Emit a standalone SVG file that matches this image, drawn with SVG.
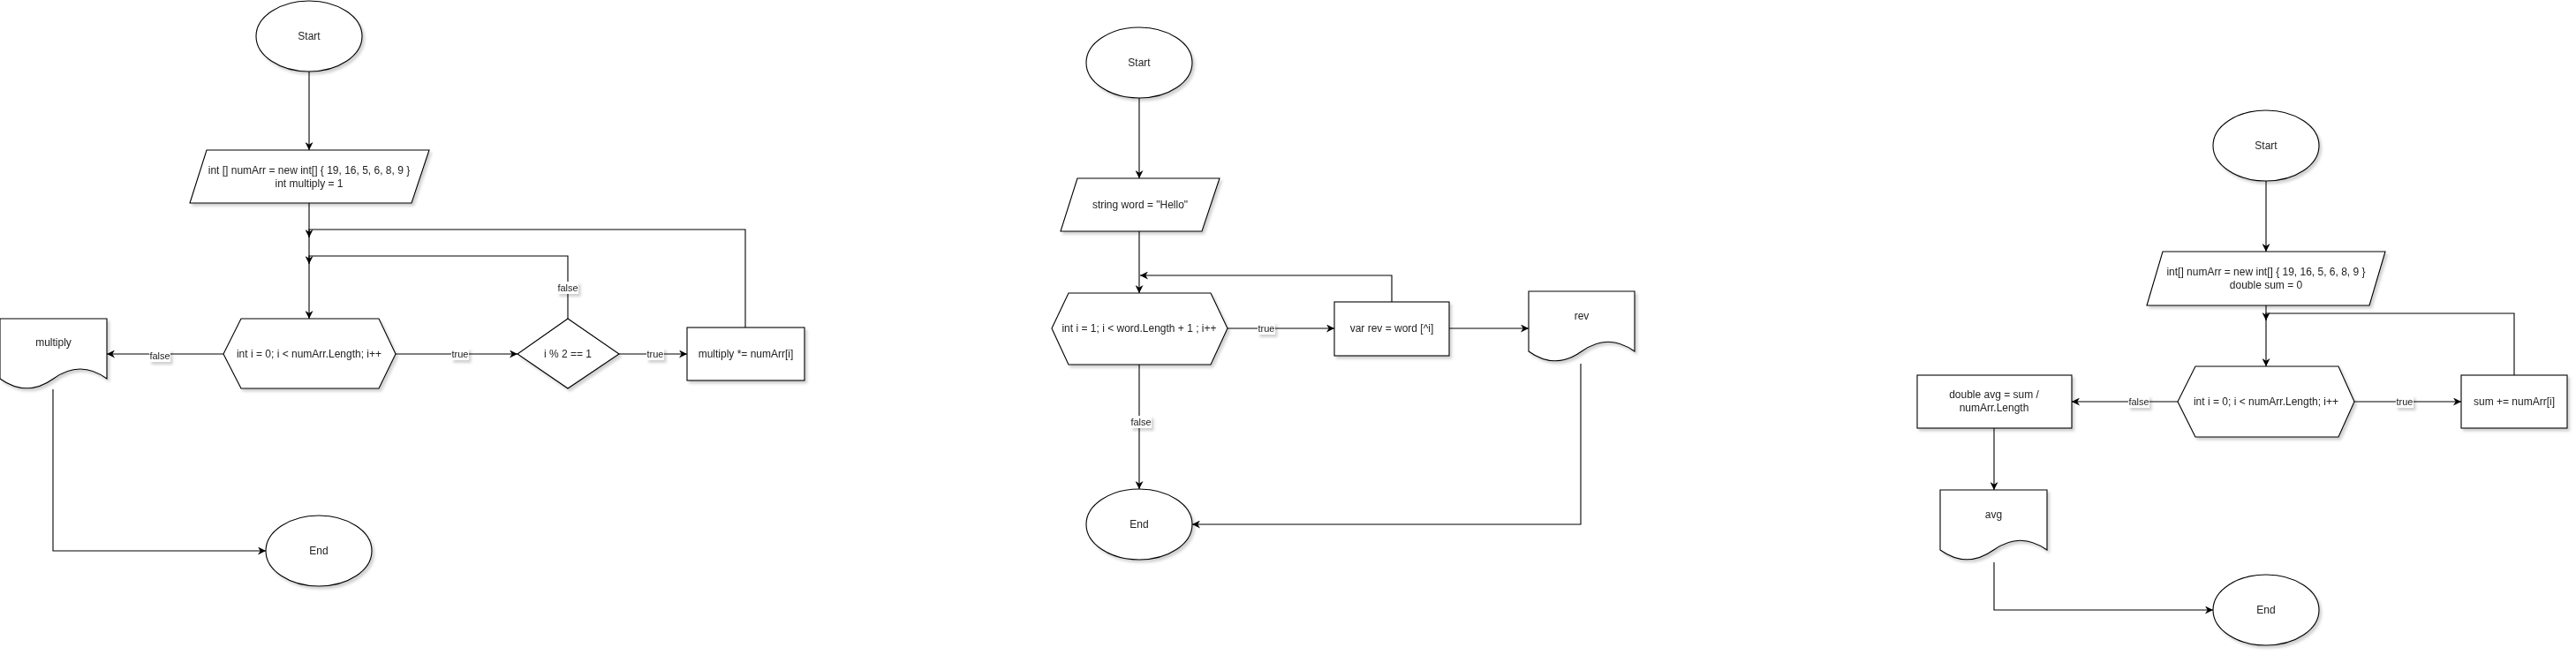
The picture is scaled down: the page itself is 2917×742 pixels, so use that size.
<svg xmlns="http://www.w3.org/2000/svg" width="2917" height="742" viewBox="0 0 2917 742">
<style>
.shape{fill:#fff;stroke:#000;stroke-width:1.1}
.edge{fill:none;stroke:#000;stroke-width:1.1}
.t{font-family:"Liberation Sans",Arial,sans-serif;font-size:12px;fill:#222;text-anchor:middle;dominant-baseline:central}
.lb{font-family:"Liberation Sans",Arial,sans-serif;font-size:11px;fill:#222;text-anchor:middle;dominant-baseline:central}
.lbg{fill:#fff;stroke:none}
.sh{filter:url(#shadow)}
</style>
<defs>
<filter id="shadow" x="-20%" y="-20%" width="150%" height="150%">
<feDropShadow dx="2.5" dy="3" stdDeviation="1.5" flood-color="#000" flood-opacity="0.18"/>
</filter>
<marker id="arr" viewBox="0 0 10 10" refX="10" refY="5" markerWidth="9" markerHeight="9" markerUnits="userSpaceOnUse" orient="auto">
<path d="M0,0 L10,5 L0,10 L3,5 Z" fill="#000"/>
</marker>
</defs>

<rect width="2917" height="742" fill="#fff"/>

<!-- Diagram 1 -->
<g id="d1-start" class="sh"><ellipse class="shape" cx="350" cy="41" rx="60" ry="40"/><text class="t" x="350" y="41">Start</text></g>
<g id="d1-init" class="sh"><polygon class="shape" points="234,170 486,170 466,230 215,230"/><text class="t" x="350" y="193">int [] numArr = new int[]  { 19, 16, 5, 6, 8, 9 }</text><text class="t" x="350" y="208">int multiply = 1</text></g>
<g id="d1-loop" class="sh"><polygon class="shape" points="253,401 273,361 429,361 448,401 429,440 273,440"/><text class="t" x="350" y="401">int i = 0; i &lt; numArr.Length; i++</text></g>
<g id="d1-cond" class="sh"><polygon class="shape" points="643,361 701,401 643,440 586,401"/><text class="t" x="643" y="401">i % 2 == 1</text></g>
<g id="d1-mul" class="sh"><rect class="shape" x="778" y="371" width="133" height="60"/><text class="t" x="844.5" y="401">multiply *= numArr[i]</text></g>
<g id="d1-out" class="sh"><path class="shape" d="M0,361 H121 V429 Q90.75,407 60.5,429 Q30.25,450.6 0,429 Z"/><text class="t" x="60.5" y="388">multiply</text></g>
<g id="d1-end" class="sh"><ellipse class="shape" cx="361" cy="624" rx="60" ry="40"/><text class="t" x="361" y="624">End</text></g>

<!-- Diagram 2 -->
<g id="d2-start" class="sh"><ellipse class="shape" cx="1290" cy="71" rx="60" ry="40"/><text class="t" x="1290" y="71">Start</text></g>
<g id="d2-init" class="sh"><polygon class="shape" points="1220,202 1381,202 1361,262 1201,262"/><text class="t" x="1291" y="232">string word = "Hello"</text></g>
<g id="d2-loop" class="sh"><polygon class="shape" points="1191,372 1210,332 1371,332 1390,372 1371,413 1210,413"/><text class="t" x="1290" y="372">int i = 1; i &lt; word.Length + 1 ; i++</text></g>
<g id="d2-rev" class="sh"><rect class="shape" x="1511" y="342" width="130" height="61"/><text class="t" x="1576" y="372">var rev = word [^i]</text></g>
<g id="d2-out" class="sh"><path class="shape" d="M1731,330 H1851 V398 Q1821,376.4 1791,398 Q1761,419.6 1731,398 Z"/><text class="t" x="1791" y="358">rev</text></g>
<g id="d2-end" class="sh"><ellipse class="shape" cx="1290" cy="594" rx="60" ry="40"/><text class="t" x="1290" y="594">End</text></g>

<!-- Diagram 3 -->
<g id="d3-start" class="sh"><ellipse class="shape" cx="2566" cy="165" rx="60" ry="40"/><text class="t" x="2566" y="165">Start</text></g>
<g id="d3-init" class="sh"><polygon class="shape" points="2449,285 2701,285 2683,346 2431,346"/><text class="t" x="2566" y="308">int[] numArr = new int[] { 19, 16, 5, 6, 8, 9 }</text><text class="t" x="2566" y="323">double sum = 0</text></g>
<g id="d3-loop" class="sh"><polygon class="shape" points="2466,455 2486,415 2648,415 2666,455 2648,495 2486,495"/><text class="t" x="2566" y="455">int i = 0; i &lt; numArr.Length; i++</text></g>
<g id="d3-sum" class="sh"><rect class="shape" x="2787" y="425" width="120" height="60"/><text class="t" x="2847" y="455">sum += numArr[i]</text></g>
<g id="d3-avg" class="sh"><rect class="shape" x="2171" y="425" width="175" height="60"/><text class="t" x="2258" y="447">double avg = sum /</text><text class="t" x="2258" y="462">numArr.Length</text></g>
<g id="d3-out" class="sh"><path class="shape" d="M2197,555 H2318 V623 Q2287.75,601.4 2257.5,623 Q2227.25,644.6 2197,623 Z"/><text class="t" x="2257.5" y="583">avg</text></g>
<g id="d3-end" class="sh"><ellipse class="shape" cx="2566" cy="691" rx="60" ry="40"/><text class="t" x="2566" y="691">End</text></g>

<!-- Connectors -->
<g id="connectors">
<path class="edge" marker-end="url(#arr)" d="M350,81 V170"/>
<path class="edge" marker-end="url(#arr)" d="M350,230 V361"/>
<path class="edge" marker-end="url(#arr)" d="M844,371 V260 H350 V269"/>
<path class="edge" marker-end="url(#arr)" d="M643,361 V290 H350 V299"/>
<path class="edge" marker-end="url(#arr)" d="M448,401 H586"/>
<path class="edge" marker-end="url(#arr)" d="M701,401 H778"/>
<path class="edge" marker-end="url(#arr)" d="M253,401 H121"/>
<path class="edge" marker-end="url(#arr)" d="M60,441 V624 H301"/>

<path class="edge" marker-end="url(#arr)" d="M1290,111 V202"/>
<path class="edge" marker-end="url(#arr)" d="M1290,262 V332"/>
<path class="edge" marker-end="url(#arr)" d="M1576,342 V312 H1291"/>
<path class="edge" marker-end="url(#arr)" d="M1390,372 H1511"/>
<path class="edge" marker-end="url(#arr)" d="M1641,372 H1731"/>
<path class="edge" marker-end="url(#arr)" d="M1290,413 V554"/>
<path class="edge" marker-end="url(#arr)" d="M1790,412 V594 H1350"/>

<path class="edge" marker-end="url(#arr)" d="M2566,205 V285"/>
<path class="edge" marker-end="url(#arr)" d="M2566,346 V415"/>
<path class="edge" marker-end="url(#arr)" d="M2847,425 V355 H2566 V363"/>
<path class="edge" marker-end="url(#arr)" d="M2666,455 H2787"/>
<path class="edge" marker-end="url(#arr)" d="M2466,455 H2346"/>
<path class="edge" marker-end="url(#arr)" d="M2258,485 V555"/>
<path class="edge" marker-end="url(#arr)" d="M2258,637 V691 H2506"/>

<g class="sh"><rect class="lbg" x="631" y="319" width="24" height="14"/><text class="lb" x="643" y="326">false</text></g>
<g class="sh"><rect class="lbg" x="511" y="394" width="20" height="14"/><text class="lb" x="521" y="401">true</text></g>
<g class="sh"><rect class="lbg" x="732" y="394" width="20" height="14"/><text class="lb" x="742" y="401">true</text></g>
<g class="sh"><rect class="lbg" x="169" y="396" width="24" height="14"/><text class="lb" x="181" y="403">false</text></g>
<g class="sh"><rect class="lbg" x="1424" y="365" width="20" height="14"/><text class="lb" x="1434" y="372">true</text></g>
<g class="sh"><rect class="lbg" x="1280" y="471" width="24" height="14"/><text class="lb" x="1292" y="478">false</text></g>
<g class="sh"><rect class="lbg" x="2713" y="448" width="20" height="14"/><text class="lb" x="2723" y="455">true</text></g>
<g class="sh"><rect class="lbg" x="2410" y="448" width="24" height="14"/><text class="lb" x="2422" y="455">false</text></g>
</g>
</svg>
